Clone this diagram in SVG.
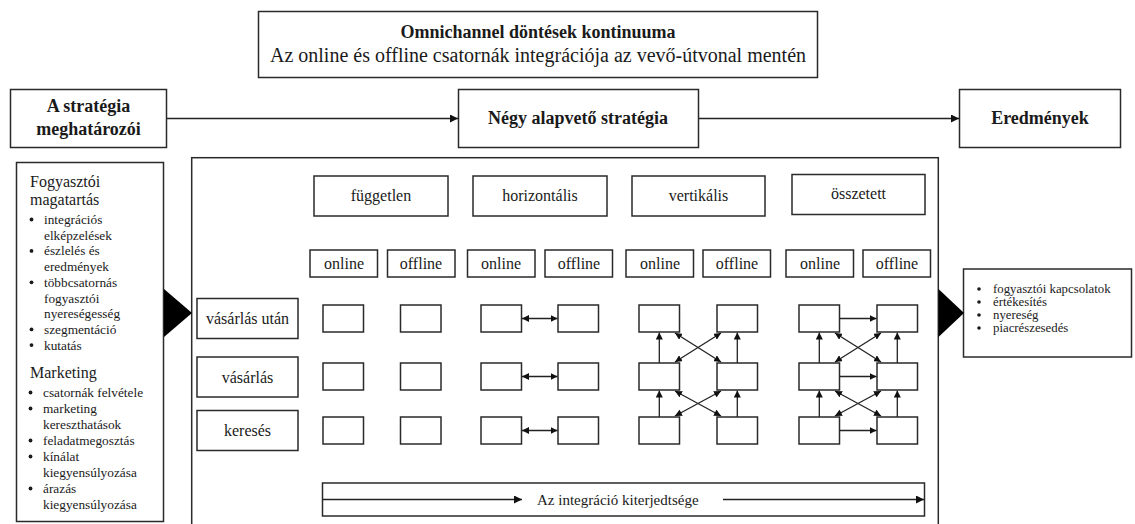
<svg xmlns="http://www.w3.org/2000/svg" width="1135" height="524" viewBox="0 0 1135 524">
  <style>
    .box { fill: #fff; stroke: #2a2a2a; stroke-width: 1.5; }
    .line { fill: none; stroke: #222; stroke-width: 1.3; }
    .t { font-family: "Liberation Serif", "Times New Roman", serif; fill: #1a1a1a; }
    .b { font-weight: bold; }
    .c { text-anchor: middle; }
    .s16 { font-size: 16px; }
    .s18 { font-size: 18px; }
    .li { font-size: 13.3px; }
    .ri { font-size: 12.8px; }
    .dot { fill: #1a1a1a; }
  </style>
  <defs>
    <marker id="ah" viewBox="0 0 10 10" refX="10" refY="5" markerWidth="8" markerHeight="8" markerUnits="userSpaceOnUse" orient="auto-start-reverse">
      <path d="M0,0 L10,5 L0,10 z" fill="#111"/>
    </marker>
    <marker id="ahs" viewBox="0 0 10 10" refX="10" refY="5" markerWidth="7" markerHeight="7" markerUnits="userSpaceOnUse" orient="auto-start-reverse">
      <path d="M0,0 L10,5 L0,10 z" fill="#111"/>
    </marker>
  </defs>

  <!-- title -->
  <g id="title">
    <rect class="box" x="258.5" y="11.5" width="559" height="66"/>
    <text class="t b c s18" x="538" y="38">Omnichannel döntések kontinuuma</text>
    <text class="t c" x="538" y="62" font-size="20">Az online és offline csatornák integrációja az vevő-útvonal mentén</text>
  </g>

  <!-- top row -->
  <g id="determinants">
    <rect class="box" x="10.5" y="89.5" width="156" height="58"/>
    <text class="t b c s18" x="88.5" y="112">A stratégia</text>
    <text class="t b c s18" x="88.5" y="135">meghatározói</text>
  </g>
  <g id="four-strategies">
    <rect class="box" x="458.5" y="89.5" width="240" height="58"/>
    <text class="t b c s18" x="578" y="124">Négy alapvető stratégia</text>
  </g>
  <g id="results">
    <rect class="box" x="959.5" y="89.5" width="161" height="58"/>
    <text class="t b c s18" x="1040" y="124">Eredmények</text>
  </g>

  <!-- determinants detail -->
  <g id="determinants-list">
    <rect class="box" x="16.5" y="162.5" width="147" height="359"/>
    <text class="t s16" x="30" y="187">Fogyasztói</text>
    <text class="t s16" x="30" y="205">magatartás</text>
    <g class="dot">
      <circle cx="31.5" cy="219.5" r="1.9"/>
      <circle cx="31.5" cy="250.9" r="1.9"/>
      <circle cx="31.5" cy="282.3" r="1.9"/>
      <circle cx="31.5" cy="329.4" r="1.9"/>
      <circle cx="31.5" cy="345.1" r="1.9"/>
      <circle cx="30.5" cy="392.5" r="1.9"/>
      <circle cx="30.5" cy="408.5" r="1.9"/>
      <circle cx="30.5" cy="440.5" r="1.9"/>
      <circle cx="30.5" cy="456.5" r="1.9"/>
      <circle cx="30.5" cy="488.5" r="1.9"/>
    </g>
    <g class="t li">
      <text x="44" y="224">integrációs</text>
      <text x="44" y="239.7">elképzelések</text>
      <text x="44" y="255.4">észlelés és</text>
      <text x="44" y="271.1">eredmények</text>
      <text x="44" y="286.8">többcsatornás</text>
      <text x="44" y="302.5">fogyasztói</text>
      <text x="44" y="318.2">nyereségesség</text>
      <text x="44" y="333.9">szegmentáció</text>
      <text x="44" y="349.6">kutatás</text>
    </g>
    <text class="t s16" x="30" y="378">Marketing</text>
    <g class="t li">
      <text x="43" y="397">csatornák felvétele</text>
      <text x="43" y="413">marketing</text>
      <text x="43" y="429">kereszthatások</text>
      <text x="43" y="445">feladatmegosztás</text>
      <text x="43" y="461">kínálat</text>
      <text x="43" y="477">kiegyensúlyozása</text>
      <text x="43" y="493">árazás</text>
      <text x="43" y="509">kiegyensúlyozása</text>
    </g>
  </g>

  <!-- strategy panel -->
  <g id="strategy-panel">
    <rect class="box" x="191.7" y="157.7" width="746.6" height="420"/>
    <rect class="box" x="314" y="176" width="134" height="40"/>
    <text class="t c s16" x="381" y="201">független</text>
    <rect class="box" x="473" y="176" width="134" height="40"/>
    <text class="t c s16" x="540" y="201">horizontális</text>
    <rect class="box" x="632" y="176" width="133" height="40"/>
    <text class="t c s16" x="698.5" y="201">vertikális</text>
    <rect class="box" x="792" y="174.5" width="133" height="40"/>
    <text class="t c s16" x="858.5" y="199">összetett</text>

    <g class="t c s16">
      <rect class="box" x="310" y="250" width="67.5" height="27"/><text x="344" y="269">online</text>
      <rect class="box" x="387.5" y="250" width="67.5" height="27"/><text x="421" y="269">offline</text>
      <rect class="box" x="467.5" y="250" width="67.5" height="27"/><text x="501" y="269">online</text>
      <rect class="box" x="545" y="250" width="67.5" height="27"/><text x="579" y="269">offline</text>
      <rect class="box" x="626" y="250" width="67.5" height="27"/><text x="660" y="269">online</text>
      <rect class="box" x="703" y="250" width="67.5" height="27"/><text x="737" y="269">offline</text>
      <rect class="box" x="786" y="250" width="67.5" height="27"/><text x="820" y="269">online</text>
      <rect class="box" x="863" y="250" width="67.5" height="27"/><text x="897" y="269">offline</text>
    </g>

    <g class="t c s16">
      <rect class="box" x="197" y="298.5" width="101" height="40"/><text x="247.5" y="324">vásárlás után</text>
      <rect class="box" x="197" y="357" width="101" height="40"/><text x="247.5" y="382.5">vásárlás</text>
      <rect class="box" x="197" y="410.5" width="101" height="40"/><text x="247.5" y="436">keresés</text>
    </g>

    <!-- channel cells: rows post-purchase, purchase, search -->
    <g id="cells">
      <rect class="box" x="323" y="305" width="40.5" height="27"/>
      <rect class="box" x="323" y="363" width="40.5" height="27"/>
      <rect class="box" x="323" y="417" width="40.5" height="27"/>
      <rect class="box" x="400.5" y="305" width="40.5" height="27"/>
      <rect class="box" x="400.5" y="363" width="40.5" height="27"/>
      <rect class="box" x="400.5" y="417" width="40.5" height="27"/>

      <rect class="box" x="481" y="305" width="40.5" height="27"/>
      <rect class="box" x="481" y="363" width="40.5" height="27"/>
      <rect class="box" x="481" y="417" width="40.5" height="27"/>
      <rect class="box" x="558" y="305" width="40.5" height="27"/>
      <rect class="box" x="558" y="363" width="40.5" height="27"/>
      <rect class="box" x="558" y="417" width="40.5" height="27"/>

      <rect class="box" x="639" y="305" width="40.5" height="27"/>
      <rect class="box" x="639" y="363" width="40.5" height="27"/>
      <rect class="box" x="639" y="417" width="40.5" height="27"/>
      <rect class="box" x="717" y="305" width="40.5" height="27"/>
      <rect class="box" x="717" y="363" width="40.5" height="27"/>
      <rect class="box" x="717" y="417" width="40.5" height="27"/>

      <rect class="box" x="799" y="305" width="40.5" height="27"/>
      <rect class="box" x="799" y="363" width="40.5" height="27"/>
      <rect class="box" x="799" y="417" width="40.5" height="27"/>
      <rect class="box" x="877" y="305" width="40.5" height="27"/>
      <rect class="box" x="877" y="363" width="40.5" height="27"/>
      <rect class="box" x="877" y="417" width="40.5" height="27"/>
    </g>

    <g id="extent">
      <rect class="box" x="322.5" y="483" width="602" height="33"/>
      <text class="t" x="537" y="505" font-size="15">Az integráció kiterjedtsége</text>
    </g>
  </g>

  <!-- outcomes -->
  <g id="outcomes">
    <rect class="box" x="963.5" y="269" width="168" height="88"/>
    <g class="dot">
      <circle cx="979" cy="289" r="1.8"/>
      <circle cx="979" cy="302" r="1.8"/>
      <circle cx="979" cy="315" r="1.8"/>
      <circle cx="979" cy="328" r="1.8"/>
    </g>
    <g class="t ri">
      <text x="993" y="293">fogyasztói kapcsolatok</text>
      <text x="993" y="306">értékesítés</text>
      <text x="993" y="319">nyereség</text>
      <text x="993" y="332">piacrészesedés</text>
    </g>
  </g>

  <!-- connectors -->
  <g id="connectors">
    <line class="line" x1="167" y1="118.5" x2="458" y2="118.5" marker-end="url(#ah)"/>
    <line class="line" x1="699" y1="118.5" x2="959" y2="118.5" marker-end="url(#ah)"/>
    <path d="M164,289 L192,313 L164,337 z" fill="#000"/>
    <path d="M938.5,289 L964,313 L938.5,337 z" fill="#000"/>

    <!-- extent axis -->
    <line class="line" x1="323" y1="499.5" x2="522" y2="499.5" marker-end="url(#ah)"/>
    <line class="line" x1="723" y1="499.5" x2="924" y2="499.5" marker-end="url(#ah)"/>

    <!-- horizontal integration -->
    <line class="line" x1="522" y1="318.5" x2="557.5" y2="318.5" marker-start="url(#ahs)" marker-end="url(#ahs)"/>
    <line class="line" x1="522" y1="376.5" x2="557.5" y2="376.5" marker-start="url(#ahs)" marker-end="url(#ahs)"/>
    <line class="line" x1="522" y1="430.5" x2="557.5" y2="430.5" marker-start="url(#ahs)" marker-end="url(#ahs)"/>

    <!-- vertical integration -->
    <line class="line" x1="659.3" y1="363" x2="659.3" y2="332.5" marker-end="url(#ahs)"/>
    <line class="line" x1="659.3" y1="417" x2="659.3" y2="390.5" marker-end="url(#ahs)"/>
    <line class="line" x1="737.3" y1="363" x2="737.3" y2="332.5" marker-end="url(#ahs)"/>
    <line class="line" x1="737.3" y1="417" x2="737.3" y2="390.5" marker-end="url(#ahs)"/>
    <line class="line" x1="675" y1="333" x2="721" y2="362" marker-start="url(#ahs)" marker-end="url(#ahs)"/>
    <line class="line" x1="721" y1="333" x2="675" y2="362" marker-start="url(#ahs)" marker-end="url(#ahs)"/>
    <line class="line" x1="675" y1="391" x2="721" y2="416" marker-start="url(#ahs)" marker-end="url(#ahs)"/>
    <line class="line" x1="721" y1="391" x2="675" y2="416" marker-start="url(#ahs)" marker-end="url(#ahs)"/>

    <!-- combined integration -->
    <line class="line" x1="819.3" y1="363" x2="819.3" y2="332.5" marker-end="url(#ahs)"/>
    <line class="line" x1="819.3" y1="417" x2="819.3" y2="390.5" marker-end="url(#ahs)"/>
    <line class="line" x1="897.3" y1="363" x2="897.3" y2="332.5" marker-end="url(#ahs)"/>
    <line class="line" x1="897.3" y1="417" x2="897.3" y2="390.5" marker-end="url(#ahs)"/>
    <line class="line" x1="835" y1="333" x2="881" y2="362" marker-start="url(#ahs)" marker-end="url(#ahs)"/>
    <line class="line" x1="881" y1="333" x2="835" y2="362" marker-start="url(#ahs)" marker-end="url(#ahs)"/>
    <line class="line" x1="835" y1="391" x2="881" y2="416" marker-start="url(#ahs)" marker-end="url(#ahs)"/>
    <line class="line" x1="881" y1="391" x2="835" y2="416" marker-start="url(#ahs)" marker-end="url(#ahs)"/>
    <line class="line" x1="840" y1="318.5" x2="876.5" y2="318.5" marker-end="url(#ahs)"/>
    <line class="line" x1="840" y1="376.5" x2="876.5" y2="376.5" marker-end="url(#ahs)"/>
    <line class="line" x1="840" y1="430.5" x2="876.5" y2="430.5" marker-end="url(#ahs)"/>
  </g>
</svg>
